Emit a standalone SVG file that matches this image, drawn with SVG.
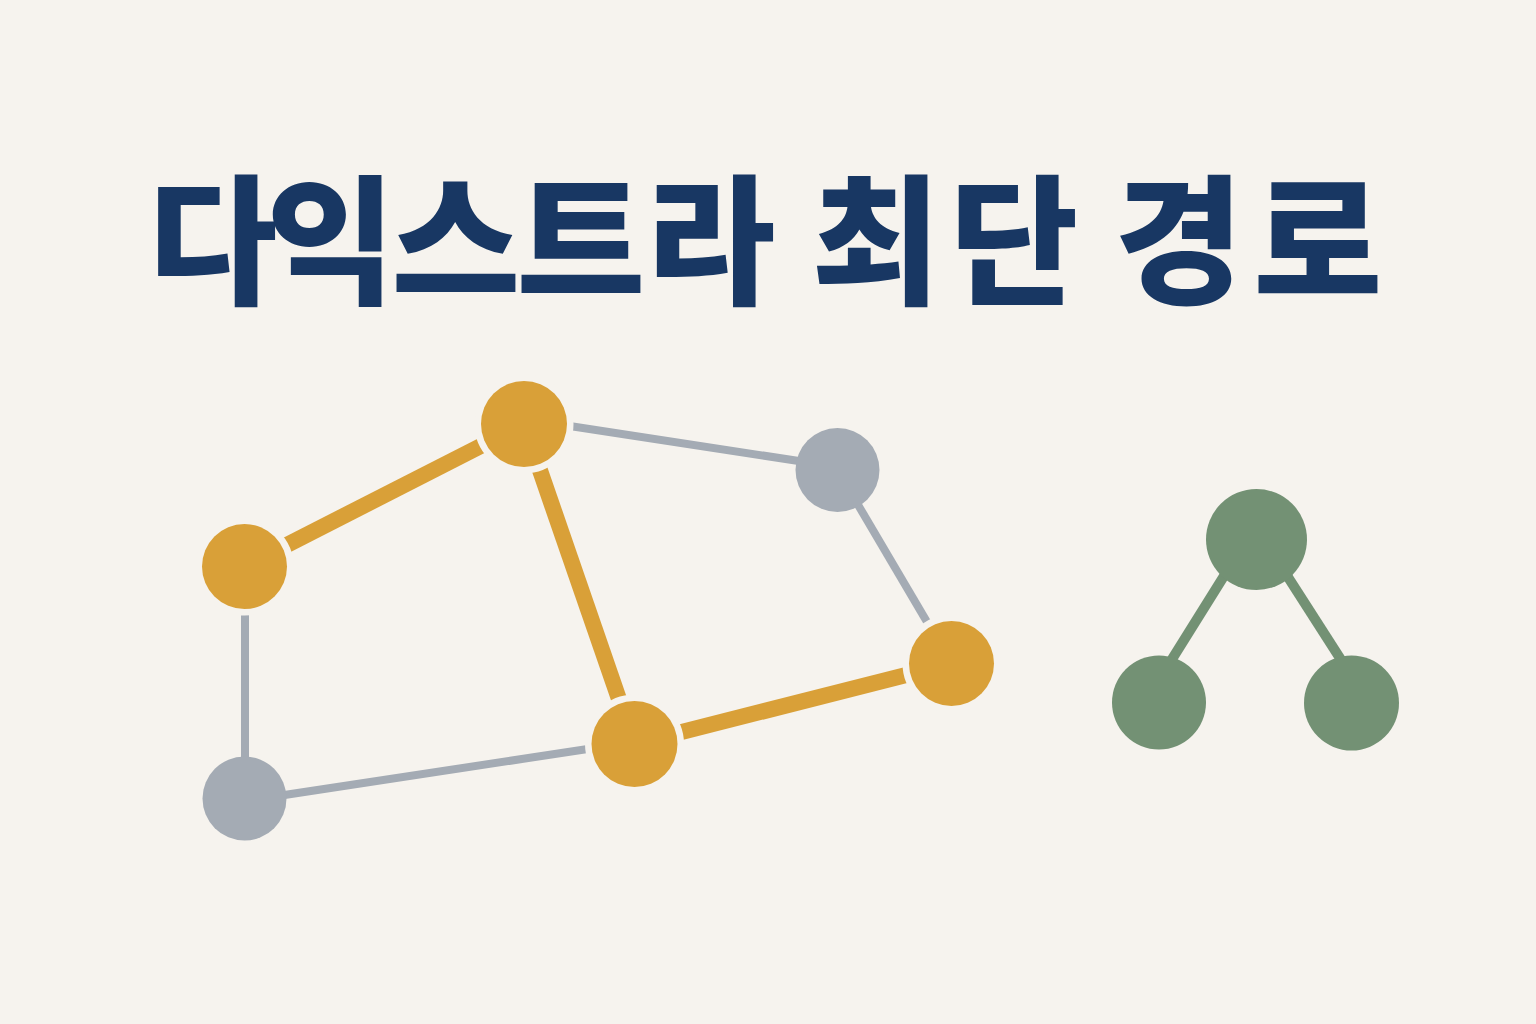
<svg xmlns="http://www.w3.org/2000/svg" width="1536" height="1024" viewBox="0 0 1536 1024">
  <style>
    .title { font-family: "Noto Sans CJK KR", "Noto Sans CJK SC", sans-serif; font-weight: 900; font-size: 140px; fill: #183763; }
    .e-orange { stroke: #D9A038; stroke-width: 16; fill: none; }
    .e-gray { stroke: #A4ABB4; stroke-width: 8; fill: none; }
    .e-green { stroke: #739174; stroke-width: 10; fill: none; }
    .n-orange { fill: #D9A038; stroke: #F6F3EE; stroke-width: 13; paint-order: stroke; }
    .n-gray { fill: #A4ABB4; }
    .n-green { fill: #739174; }
  </style>
  <rect width="1536" height="1024" fill="#F6F3EE"/>
  <g id="title">
    <text class="title" text-anchor="middle" y="293" x="213 331 456 581 711 790 876 1014 1100 1179 1318">다익스트라 최단 경로</text>
  </g>
  <g id="connectors">
    <line class="e-gray" x1="524" y1="419" x2="838" y2="467"/>
    <line class="e-gray" x1="837.5" y1="470" x2="951.5" y2="663.5"/>
    <line class="e-gray" x1="245" y1="566.5" x2="245" y2="798.5"/>
    <line class="e-gray" x1="245" y1="801" x2="634" y2="742"/>
    <line class="e-orange" x1="244.5" y1="566.5" x2="524" y2="424"/>
    <line class="e-orange" x1="524" y1="424" x2="634.5" y2="744"/>
    <line class="e-orange" x1="634.5" y1="744" x2="951.5" y2="663.5"/>
    <line class="e-green" x1="1234" y1="560" x2="1159" y2="680"/>
    <line class="e-green" x1="1277" y1="560" x2="1354" y2="680"/>
  </g>
  <g id="node-a"><circle class="n-orange" cx="524" cy="424" r="43"/></g>
  <g id="node-b"><circle class="n-gray" cx="837.5" cy="470" r="42"/></g>
  <g id="node-c"><circle class="n-orange" cx="244.5" cy="566.5" r="42.5"/></g>
  <g id="node-d"><circle class="n-orange" cx="951.5" cy="663.5" r="42.5"/></g>
  <g id="node-e"><circle class="n-orange" cx="634.5" cy="744" r="43"/></g>
  <g id="node-f"><circle class="n-gray" cx="244.5" cy="798.5" r="42"/></g>
  <g id="node-g"><circle class="n-green" cx="1256.5" cy="539.5" r="50.5"/></g>
  <g id="node-h"><circle class="n-green" cx="1159" cy="702.5" r="47"/></g>
  <g id="node-i"><circle class="n-green" cx="1351.5" cy="703" r="47.5"/></g>
</svg>
